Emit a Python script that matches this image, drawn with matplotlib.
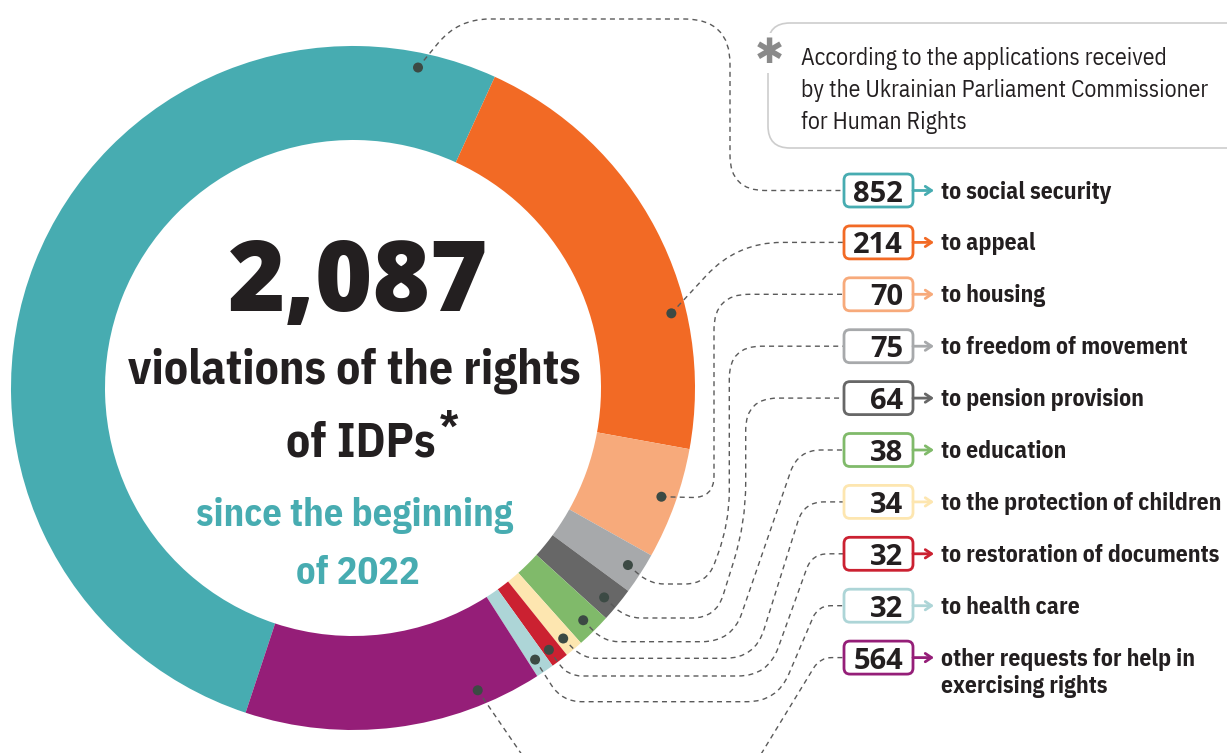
import numpy as np
import matplotlib
matplotlib.use("Agg")
import matplotlib.pyplot as plt
from matplotlib.path import Path
from matplotlib.patches import PathPatch, FancyBboxPatch, Circle

# ---------------- data ----------------
categories = ["to social security", "to appeal", "to housing", "to freedom of movement",
              "to pension provision", "to education", "to the protection of children",
              "to restoration of documents", "to health care",
              "other requests for help in\nexercising rights"]
counts = [852, 214, 70, 75, 64, 38, 34, 32, 32, 564]
# angular size of each ring segment (degrees) as drawn in the original picture
arc_deg = [186.2, 75.8, 19.0, 7.1, 5.9, 5.9, 3.1, 3.0, 3.1, 50.9]
total_label = "2,087"
centre_lines = ["violations of the rights", "of IDPs"]
period_lines = ["since the beginning", "of 2022"]
note_lines = ["According to the applications received",
              "by the Ukrainian Parliament Commissioner",
              "for Human Rights"]

# ---------------- style ----------------
colors = ["#47acb1", "#f26a25", "#f7aa7b", "#a7a9ab", "#676767",
          "#80ba6a", "#fde6b0", "#cb2131", "#add5d7", "#951e78"]
TXT = "#231f20"
COND = ["IBM Plex Sans Condensed", "DejaVu Sans"]
NUMF = ["Open Sans", "Liberation Sans", "DejaVu Sans"]

W, H = 1227, 753
fig = plt.figure(figsize=(W / 100, H / 100), dpi=100)
ax = fig.add_axes([0, 0, 1, 1])
renderer = fig.canvas.get_renderer()

cx, cy, R, ring_w = 353, 388, 342, 94
start_cw = 198.3  # clockwise-from-top angle where the first segment starts

# y axis is inverted below, so counterclock in data == clockwise on screen
ax.pie(arc_deg, colors=colors, center=(cx, cy), radius=R, startangle=start_cw - 90,
       counterclock=True, wedgeprops=dict(width=ring_w, linewidth=0))
ax.set_xlim(0, W)
ax.set_ylim(H, 0)
ax.set_aspect("auto")
ax.axis("off")


def fit_size(s, width, **kw):
    t = ax.text(0, 0, s, fontsize=20, **kw)
    w = t.get_window_extent(renderer).width
    t.remove()
    return 20 * width / w


# dot anchors: position along each segment (fraction of its arc)
dot_frac = [0.93, 0.69, 0.48, 0.49, 0.58, 0.50, 0.58, 0.63, 0.60, 0.20]
dot_r = 327
cum = np.concatenate([[0], np.cumsum(arc_deg)])
dots = []
for i in range(len(arc_deg)):
    a = np.radians(start_cw + cum[i] + dot_frac[i] * arc_deg[i])
    dots.append((cx + dot_r * np.sin(a), cy - dot_r * np.cos(a)))

# legend rows
row0, row_step = 190.5, 51.9
rows = [row0 + i * row_step for i in range(len(counts))]
box_x, box_w, box_h = 844, 69, 33

# connector routes (after the dot): waypoints and corner radii
routes = [
    ([(458, 19), (730, 19), (730, rows[0]), (box_x, rows[0])], [38, 45, 35]),
    ([(737, rows[1]), (box_x, rows[1])], [45]),
    ([(714, 498), (714, rows[2]), (box_x, rows[2])], [22, 35]),
    ([(650, 584), (707, 584), (729.3, 523), (729.3, rows[3]), (box_x, rows[3])],
     [18, 22, 40, 32]),
    ([(626, 618), (716, 618), (745.7, 523), (745.7, rows[4]), (box_x, rows[4])],
     [18, 24, 40, 32]),
    ([(604, 641.7), (732, 641.7), (798, rows[5]), (box_x, rows[5])], [18, 30, 26]),
    ([(583, 658.3), (755, 658.3), (804, rows[6]), (box_x, rows[6])], [14, 30, 26]),
    ([(568, 676), (768, 676), (812, rows[7]), (box_x, rows[7])], [14, 30, 24]),
    ([(562, 701.7), (777, 701.7), (818, rows[8]), (box_x, rows[8])], [20, 30, 22]),
    ([(553, 800), (733, 800), (820, rows[9]), (box_x, rows[9])], [40, 40, 20]),
]


def rounded_path(pts, radii):
    pts = [np.array(p, float) for p in pts]
    verts = [pts[0]]
    codes = [Path.MOVETO]
    for i in range(1, len(pts) - 1):
        p0, p1, p2 = pts[i - 1], pts[i], pts[i + 1]
        v1, v2 = p1 - p0, p2 - p1
        L1, L2 = np.hypot(*v1), np.hypot(*v2)
        r = min(radii[i - 1], L1 * 0.5, L2 * 0.5)
        verts += [p1 - v1 / L1 * r, p1, p1 + v2 / L2 * r]
        codes += [Path.LINETO, Path.CURVE3, Path.CURVE3]
    verts.append(pts[-1])
    codes.append(Path.LINETO)
    return Path(verts, codes)


for i, (wp, rad) in enumerate(routes):
    path = rounded_path([dots[i]] + wp, rad)
    ax.add_patch(PathPatch(path, fc="none", ec="#5a5a5a", lw=1.0,
                           linestyle=(0, (3.6, 3.0)), zorder=3))
for (x, y) in dots:
    ax.add_patch(Circle((x, y), 5, fc="#3c4a44", ec="none", zorder=4))

# legend boxes, arrows, labels
num_fs = fit_size("852", 50, fontweight="bold", family=NUMF)
lab_fs = fit_size("to the protection of children", 280, fontweight="bold", family=COND)
for i in range(len(counts)):
    yc = rows[i]
    ax.add_patch(FancyBboxPatch((box_x, yc - box_h / 2), box_w, box_h,
                                boxstyle="round,pad=0,rounding_size=6",
                                fc="white", ec=colors[i], lw=2.0, zorder=5))
    ax.text(box_x + 59, yc + 11, f"{counts[i]}", ha="right", va="baseline",
            fontsize=num_fs, fontweight="bold", color=TXT, family=NUMF, zorder=6)
    ax.annotate("", xy=(934, yc), xytext=(box_x + box_w, yc),
                arrowprops=dict(arrowstyle="->,head_length=0.45,head_width=0.3",
                                color=colors[i], lw=2.0, shrinkA=0, shrinkB=0),
                zorder=5)
    for k, part in enumerate(categories[i].split("\n")):
        ax.text(941, yc + 8 + 27 * k, part, ha="left", va="baseline",
                fontsize=lab_fs, fontweight="bold", color=TXT, family=COND, zorder=6)

# centre text
big_fs = fit_size(total_label, 260, fontweight=800, family=NUMF)
ax.text(358, 311, total_label, ha="center", va="baseline", fontsize=big_fs,
        fontweight=800, color=TXT, family=NUMF)
mid_fs = fit_size(centre_lines[0], 452, fontweight="bold", family=COND)
ax.text(354, 383, centre_lines[0], ha="center", va="baseline",
        fontsize=mid_fs, fontweight="bold", color=TXT, family=COND)
t_idp = ax.text(286, 456, centre_lines[1], ha="left", va="baseline",
                fontsize=mid_fs, fontweight="bold", color=TXT, family=COND)
idp_right = ax.transData.inverted().transform(
    t_idp.get_window_extent(renderer).corners()[-1])[0]
ax.text(idp_right + 14, 442, "*", ha="center", va="baseline",
        fontsize=34, fontweight="bold", color=TXT, family=["Liberation Sans", "DejaVu Sans"])
per_fs = fit_size(period_lines[0], 316, fontweight="bold", family=COND)
ax.text(354, 526, period_lines[0], ha="center", va="baseline",
        fontsize=per_fs, fontweight="bold", color=colors[0], family=COND)
ax.text(358, 584, period_lines[1], ha="center", va="baseline",
        fontsize=per_fs, fontweight="bold", color=colors[0], family=COND)

# note box
ax.add_patch(FancyBboxPatch((768, 23), 520, 125,
                            boxstyle="round,pad=0,rounding_size=22",
                            fc="none", ec="#cdcdcd", lw=1.2, zorder=2))
ax.text(769, 53, "\u2731", ha="center", va="center", fontsize=25,
        color="#8a8a8a", family=["DejaVu Sans"], zorder=3,
        bbox=dict(boxstyle="square,pad=0.1", fc="white", ec="none"))
note_fs = fit_size(note_lines[0], 366, family=COND)
for k, line in enumerate(note_lines):
    ax.text(801, 65 + 32 * k, line, ha="left", va="baseline", fontsize=note_fs,
            color=TXT, family=COND, zorder=3)

fig.savefig("out.png", dpi=100)
